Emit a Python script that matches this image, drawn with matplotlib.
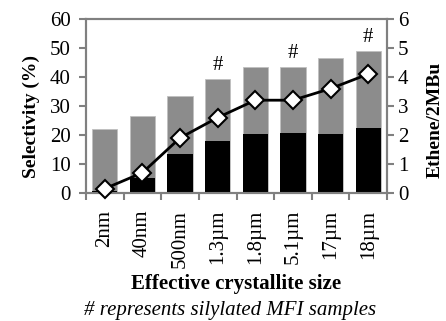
import matplotlib.pyplot as plt
import numpy as np

plt.rcParams['font.family'] = ['Liberation Serif', 'DejaVu Serif']

sizes = ['2nm', '40nm', '500nm', '1.3\u00b5m', '1.8\u00b5m', '5.1\u00b5m', '17\u00b5m', '18\u00b5m']
total_sel = [22, 26.7, 33.3, 39.2, 43.3, 43.3, 46.5, 49]
black_sel = [0.8, 5.2, 13.3, 18, 20.5, 20.8, 20.5, 22.5]
ratio = [0.15, 0.7, 1.9, 2.6, 3.2, 3.2, 3.6, 4.1]
silylated = [False, False, False, True, False, True, False, True]

fig = plt.figure(figsize=(4.46, 3.21), dpi=100)
# axes box: left 86px, right 387px, top 19px, bottom 193px
ax = fig.add_axes([86 / 446, 1 - 193 / 321, 301 / 446, 174 / 321])
x = np.arange(len(sizes))

ax.bar(x, total_sel, width=0.67, color='#8c8c8c', edgecolor='#c0c0c0', linewidth=0.6, zorder=2)
ax.bar(x, black_sel, width=0.67, color='black', zorder=3)
for xi, t, s in zip(x, total_sel, silylated):
    if s:
        ax.text(xi, t + 1.5, '#', ha='center', va='bottom', fontsize=15)

ax.set_ylim(0, 60)
ax.set_xlim(-0.5, len(sizes) - 0.5)
ax.set_yticks(range(0, 61, 10))
ax.set_xticks(x)
ax.set_xticklabels(sizes, rotation=90, fontsize=15)
ax.set_xticks(np.arange(-0.5, len(sizes)), minor=True)
ax.tick_params(axis='x', which='major', length=0, pad=12)
ax.tick_params(axis='x', which='minor', length=5, width=1.5, color='#808080', direction='out')
ax.tick_params(axis='y', labelsize=15, length=5, width=1.5, color='#808080', pad=6)
ax.set_ylabel('Selectivity (%)', fontsize=14, fontweight='bold')
ax.yaxis.set_label_coords(-0.153, 0.44)
ax.set_xlabel('Effective crystallite size', fontsize=15, fontweight='bold', labelpad=5)
for sp in ax.spines.values():
    sp.set_color('#808080')
    sp.set_linewidth(1.5)

ax2 = ax.twinx()
ax2.plot(x, ratio, color='black', lw=2, marker='D', markersize=9,
         markerfacecolor='white', markeredgecolor='black', markeredgewidth=1.5, zorder=5, clip_on=False)
ax2.set_ylim(0, 6)
ax2.set_yticks(range(0, 7))
ax2.tick_params(axis='y', labelsize=15, length=5, width=1.5, color='#808080', pad=3)
ax2.set_ylabel('Ethene/2MBu', fontsize=14, fontweight='bold')
ax2.yaxis.set_label_coords(1.133, 0.42)
for sp in ax2.spines.values():
    sp.set_color('#808080')
    sp.set_linewidth(1.5)

fig.text(0.516, 1 / 321, '# represents silylated MFI samples', ha='center', va='bottom',
         fontsize=15, style='italic')

fig.savefig('out.png', dpi=100)
